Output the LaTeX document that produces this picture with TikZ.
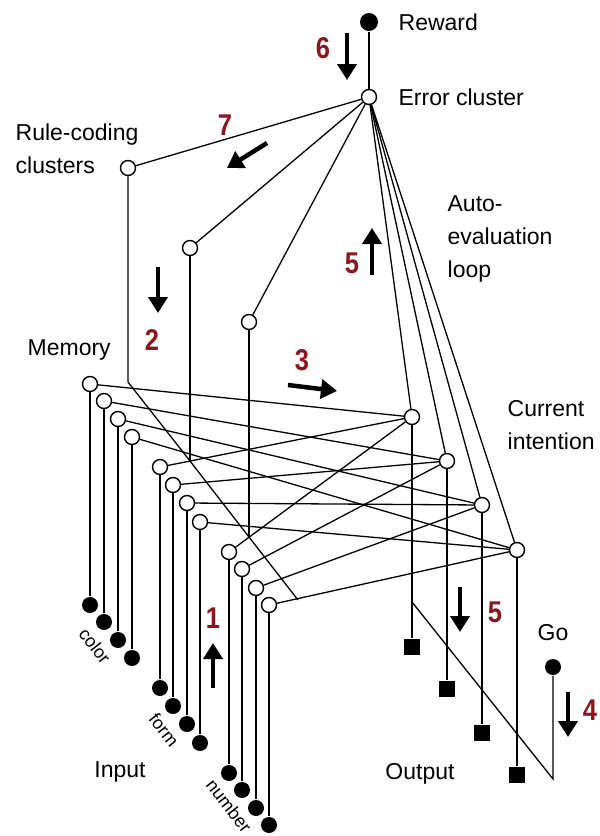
\documentclass[tikz,border=0pt]{standalone}
\usepackage{fontspec}
\setmainfont{Liberation Sans}
\newfontfamily\digitfont[FakeStretch=0.85]{Liberation Sans}
\usetikzlibrary{arrows.meta}
\definecolor{stepred}{RGB}{140,22,30}

\begin{document}
\begin{tikzpicture}[x=1pt, y=-1pt, line width=1.3pt,
unit/.style={circle, draw, fill=white, inner sep=0pt, minimum size=15pt, line width=1.4pt},
inp/.style={circle, fill=black, inner sep=0pt, minimum size=16pt},
outp/.style={rectangle, fill=black, inner sep=0pt, minimum size=16pt},
lbl/.style={font=\fontsize{23}{33}\selectfont, align=left, inner sep=0pt},
tag/.style={font=\fontsize{18}{20}\selectfont, rotate=-52, inner sep=0pt},
num/.style={font=\digitfont\bfseries\fontsize{30}{30}\selectfont, text=stepred, inner sep=0pt},
bigarrow/.style={line width=4.5pt, -{Triangle[length=16pt,width=19pt]}}]
\useasboundingbox (0,0) rectangle (600,836);

\node[inp, minimum size=18pt] (reward) at (369,22) {};
\node[unit] (error) at (369,97) {};
\node[unit] (rulecolor) at (128,168) {};
\node[unit] (ruleform) at (190,248) {};
\node[unit] (rulenumber) at (249,322) {};

\node[unit] (memc1) at (90,384) {};
\node[unit] (memc2) at (104,401) {};
\node[unit] (memc3) at (118,419) {};
\node[unit] (memc4) at (132,437) {};
\node[unit] (memf1) at (160,467) {};
\node[unit] (memf2) at (173,485) {};
\node[unit] (memf3) at (187,503) {};
\node[unit] (memf4) at (200,522) {};
\node[unit] (memn1) at (229,552) {};
\node[unit] (memn2) at (242,569) {};
\node[unit] (memn3) at (256,588) {};
\node[unit] (memn4) at (269,605) {};

\node[inp] (inc1) at (90,605) {};
\node[inp] (inc2) at (104,622) {};
\node[inp] (inc3) at (118,640) {};
\node[inp] (inc4) at (132,658) {};
\node[inp] (inf1) at (160,688) {};
\node[inp] (inf2) at (173,706) {};
\node[inp] (inf3) at (187,724) {};
\node[inp] (inf4) at (200,743) {};
\node[inp] (inn1) at (229,773) {};
\node[inp] (inn2) at (242,790) {};
\node[inp] (inn3) at (256,808) {};
\node[inp] (inn4) at (269,825) {};

\node[unit] (int1) at (412,417) {};
\node[unit] (int2) at (447,461) {};
\node[unit] (int3) at (482,505) {};
\node[unit] (int4) at (517,550) {};

\node[outp] (out1) at (412,647) {};
\node[outp] (out2) at (447,689) {};
\node[outp] (out3) at (482,733) {};
\node[outp] (out4) at (517,775) {};

\node[inp] (go) at (553,667) {};

\coordinate (gatea) at (128,382);
\coordinate (gateb) at (190,461);
\coordinate (gatec) at (249,537);
\coordinate (gated) at (298,600);
\coordinate (goend) at (553,779);
\coordinate (gojoin) at (412,602);

\draw (reward) -- (error);
\draw (error) -- (rulecolor);
\draw (error) -- (ruleform);
\draw (error) -- (rulenumber);
\draw (error) -- (int1);
\draw (error) -- (int2);
\draw (error) -- (int3);
\draw (error) -- (int4);

\draw (rulecolor) -- (gatea) -- (gateb) -- (gatec) -- (gated);
\draw (ruleform) -- (gateb);
\draw (rulenumber) -- (gatec);

\draw (memc1) -- (int1);
\draw (memc2) -- (int2);
\draw (memc3) -- (int3);
\draw (memc4) -- (int4);
\draw (memf1) -- (int1);
\draw (memf2) -- (int2);
\draw (memf3) -- (int3);
\draw (memf4) -- (int4);
\draw (memn1) -- (int1);
\draw (memn2) -- (int2);
\draw (memn3) -- (int3);
\draw (memn4) -- (int4);

\draw (inc1) -- (memc1);
\draw (inc2) -- (memc2);
\draw (inc3) -- (memc3);
\draw (inc4) -- (memc4);
\draw (inf1) -- (memf1);
\draw (inf2) -- (memf2);
\draw (inf3) -- (memf3);
\draw (inf4) -- (memf4);
\draw (inn1) -- (memn1);
\draw (inn2) -- (memn2);
\draw (inn3) -- (memn3);
\draw (inn4) -- (memn4);

\draw (int1) -- (out1);
\draw (int2) -- (out2);
\draw (int3) -- (out3);
\draw (int4) -- (out4);
\draw (go) -- (goend) -- (gojoin);

\node[lbl, anchor=west] (rewardlbl) at (398,22) {Reward};
\node[lbl, anchor=west] (errorlbl) at (398,97) {Error cluster};
\node[lbl, anchor=west] (rulelbl) at (15,149) {Rule-coding\\clusters};
\node[lbl, anchor=west] (autolbl) at (447,239) {Auto-\\evaluation\\loop};
\node[lbl, anchor=west] (memlbl) at (27,350) {Memory};
\node[lbl, anchor=west] (intlbl) at (507,425) {Current\\intention};
\node[lbl] (golbl) at (553,633) {Go};
\node[lbl] (inlbl) at (120,772) {Input};
\node[lbl] (outlbl) at (420,774) {Output};
\node[tag] (colortag) at (95,646) {color};
\node[tag] (formtag) at (164,730) {form};
\node[tag] (numbertag) at (229,806) {number};

\node[num] (n6) at (323,48) {6};
\node[num] (n7) at (225,125) {7};
\node[num] (n2) at (152,340) {2};
\node[num] (n3) at (302,360) {3};
\node[num] (n5a) at (352,263) {5};
\node[num] (n1) at (213,618) {1};
\node[num] (n5b) at (495,612) {5};
\node[num] (n4) at (590,710) {4};

\draw[bigarrow] (347,33) -- (347,80);
\draw[bigarrow] (267,143) -- (227,168);
\draw[bigarrow] (158,267) -- (158,313);
\draw[bigarrow] (288,385) -- (337,391);
\draw[bigarrow] (372,275) -- (372,228);
\draw[bigarrow] (213,688) -- (213,643);
\draw[bigarrow] (460,587) -- (460,632);
\draw[bigarrow] (568,692) -- (568,737);
\end{tikzpicture}
\end{document}
